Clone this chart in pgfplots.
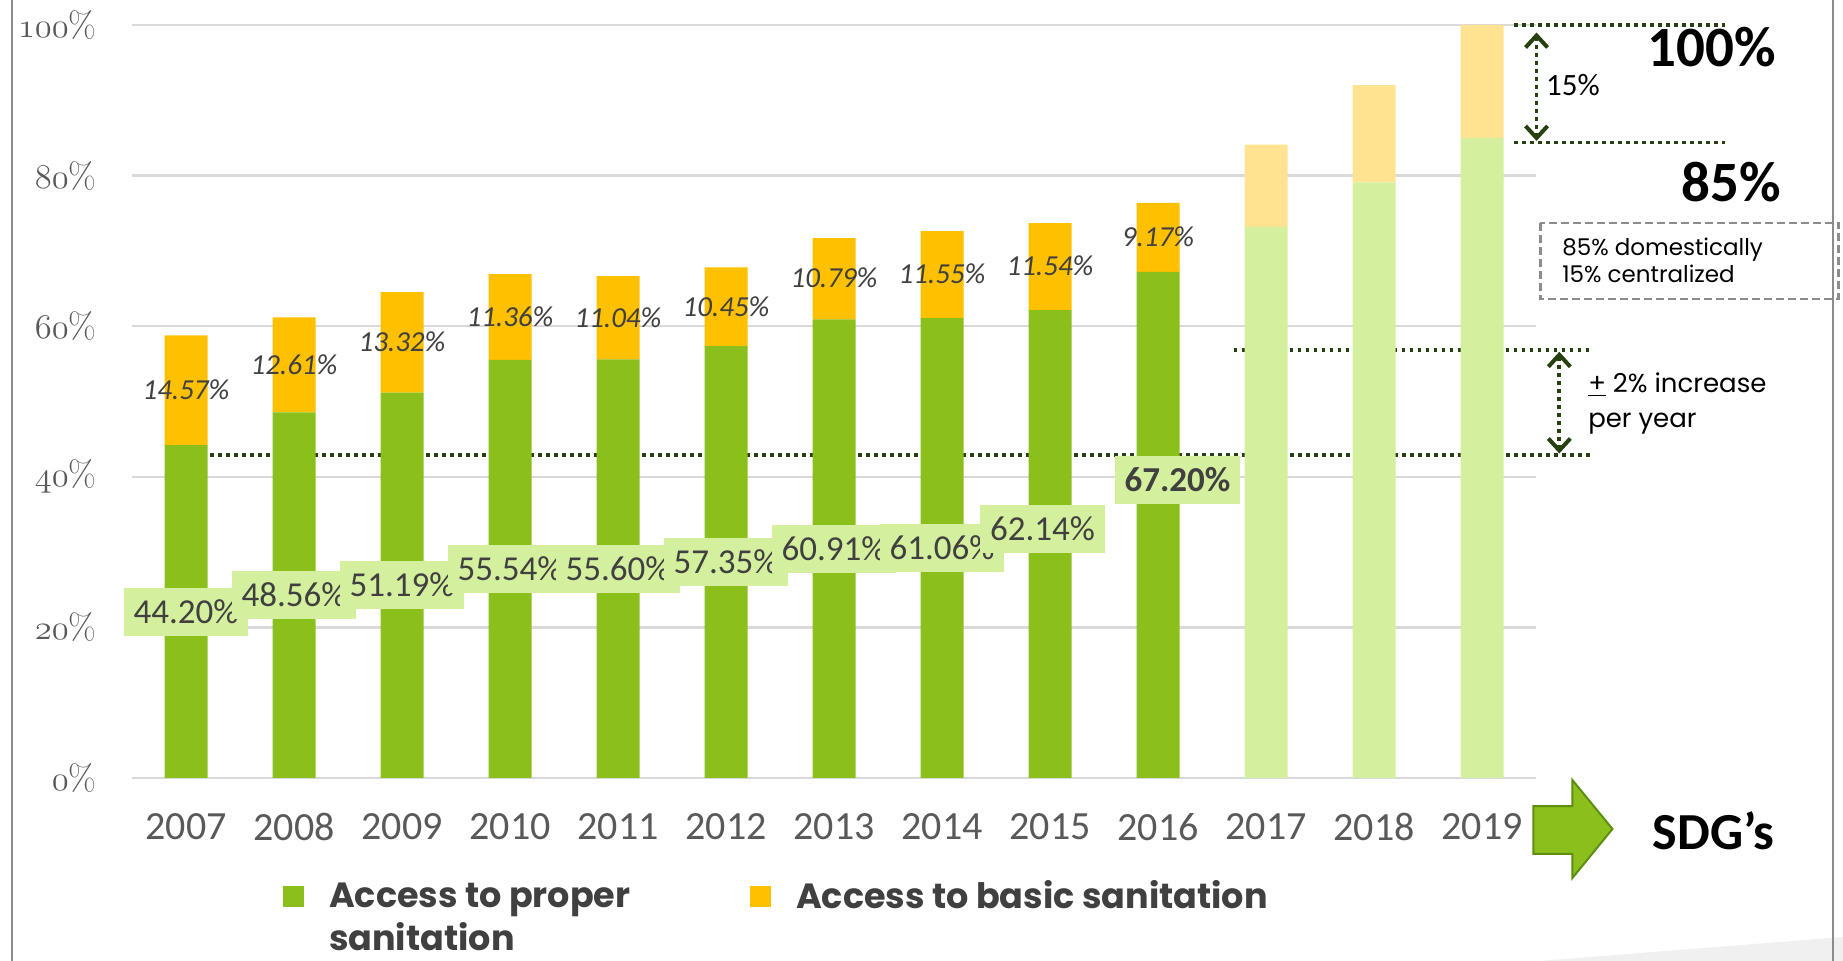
\documentclass[border=0pt]{standalone}
\usepackage{pgfplots}
\pgfplotsset{compat=1.18}
\usepackage{pgfplotstable}
\usepackage{fontspec}
\usetikzlibrary{arrows.meta}
\setmainfont{Carlito}
\newfontfamily\carl{Carlito}
\newfontfamily\pop{Poppins}
\definecolor{cgreen}{HTML}{8BBF1C}
\definecolor{cyellow}{HTML}{FFC000}
\definecolor{clgreen}{HTML}{D4EF9E}
\definecolor{clyellow}{HTML}{FFE390}
\definecolor{cdot}{HTML}{264010}
\definecolor{cgrid}{HTML}{D9D9D9}
\definecolor{ctext}{HTML}{595959}
\definecolor{clabel}{HTML}{404040}
\definecolor{cframe}{HTML}{8C8C8C}
\definecolor{carrowdark}{HTML}{5E8E10}
\newcommand\ytl[1]{{\usefont{OML}{lmm}{b}{it}#1}{\usefont{TU}{lmr}{m}{n}\%}}

\pgfplotstableread{
x proper lproper basic lbasic
0 44.20 0 14.57 0
1 48.56 0 12.61 0
2 51.19 0 13.32 0
3 55.54 0 11.36 0
4 55.60 0 11.04 0
5 57.35 0 10.45 0
6 60.91 0 10.79 0
7 61.06 0 11.55 0
8 62.14 0 11.54 0
9 67.20 0 9.17 0
10 0 73.2 0 10.9
11 0 79.1 0 12.9
12 0 85.0 0 15.0
}\bars

\pgfplotstableread{
x y v
0 22.10 44.20
1 24.28 48.56
2 25.60 51.19
3 27.77 55.54
4 27.80 55.60
5 28.68 57.35
6 30.46 60.91
7 30.53 61.06
7.93 33.10 62.14
}\greenlabels

\pgfplotstableread{
x y v
9.18 39.60 67.20
}\greenbold

\pgfplotstableread{
x y v
0 51.49 14.57
1 54.87 12.61
2 57.85 13.32
3 61.22 11.36
4 61.12 11.04
5 62.58 10.45
6 66.31 10.79
7 66.84 11.55
8 67.91 11.54
9 71.79 9.17
}\yellowlabels

\pgfplotsset{base/.style={at={(66pt,91.5pt)}, anchor=south west, scale only axis,
  width=702pt, height=376.5pt, xmin=-0.5, xmax=12.5, ymin=0, ymax=100, clip=false}}

\tikzset{dotl/.style={cdot, line width=1.9pt, dash pattern=on 1.9pt off 2.1pt},
  barb/.style={{Straight Barb[length=6pt,width=11pt,line width=2pt]}-{Straight Barb[length=6pt,width=11pt,line width=2pt]}}}

\begin{document}
\begin{tikzpicture}
\path[use as bounding box] (0,0) rectangle (921.5pt,480.5pt);
\fill[white] (0,0) rectangle (921.5pt,480.5pt);
\fill[black!6] (770pt,0pt) -- (921.5pt,12pt) -- (921.5pt,0pt) -- cycle;
\draw[cframe, line width=1pt] (6pt,0) -- (6pt,480.5pt);
\draw[cframe, line width=1pt] (916.5pt,0) -- (916.5pt,480.5pt);

\begin{axis}[base, ybar stacked, bar width=21.5pt,
  axis line style={draw=none}, tick style={draw=none},
  ymajorgrids, grid style={draw=cgrid, line width=1.15pt},
  ytick={0,20,40,60,80,100},
  yticklabels={\ytl{0},\ytl{20},\ytl{40},\ytl{60},\ytl{80},\ytl{100}},
  yticklabel style={anchor=east, inner sep=0pt, xshift=-17.5pt, text=ctext, font=\fontsize{18}{21}\selectfont},
  xtick={0,1,2,3,4,5,6,7,8,9,10,11,12},
  xticklabels={2007,2008,2009,2010,2011,2012,2013,2014,2015,2016,2017,2018,2019},
  xticklabel style={anchor=north, inner sep=0pt, yshift=-17.5pt, text=ctext, font=\carl\fontsize{20}{24}\selectfont},
  legend columns=2,
  legend cell align=left,
  legend style={at={(axis description cs:0.10733,-0.1360)}, anchor=north west, draw=none, fill=none,
    inner sep=0pt, column sep=12.5pt,
    nodes={inner sep=0pt, text=clabel, font=\pop\bfseries\fontsize{17.5}{21.5}\selectfont},
    /tikz/every even column/.append style={column sep=10.5pt}},
]
\addplot[fill=cgreen, draw=none, legend image code/.code={\fill[cgreen] (0pt,-5.5pt) rectangle (10.5pt,5pt);}] table[x=x,y=proper] {\bars};
\addlegendentry{\parbox[t]{200pt}{Access to proper\\sanitation}}
\addplot[fill=clgreen, draw=none, forget plot] table[x=x,y=lproper] {\bars};
\addplot[fill=cyellow, draw=none, legend image code/.code={\fill[cyellow] (0pt,-5.5pt) rectangle (10.5pt,5pt);}] table[x=x,y=basic] {\bars};
\addlegendentry{Access to basic sanitation}
\addplot[fill=clyellow, draw=none, forget plot] table[x=x,y=lbasic] {\bars};

% annotations
\draw[dotl] (axis cs:0.225,42.9) -- (axis cs:13.0,42.9);
\draw[dotl] (axis cs:9.70,56.84) -- (axis cs:13.0,56.84);
\draw[dotl, barb] (axis cs:12.716,56.6) -- (axis cs:12.716,43.1);
\draw[dotl] (axis cs:12.30,100) -- (axis cs:14.25,100);
\draw[dotl] (axis cs:12.30,84.4) -- (axis cs:14.25,84.4);
\draw[dotl, barb] (axis cs:12.505,99.0) -- (axis cs:12.505,84.6);
\node[anchor=west, inner sep=0pt, font=\carl\fontsize{15.5}{18}\selectfont] at (axis cs:12.59,92.0) {15\%};
\node[font=\carl\bfseries\fontsize{28.5}{32}\selectfont] at (axis cs:14.13,97.0) {100\%};
\node[font=\carl\bfseries\fontsize{28.5}{32}\selectfont] at (axis cs:14.31,79.1) {85\%};
\draw[cframe, line width=1.25pt, dash pattern=on 4pt off 2pt] (axis cs:12.54,73.7) rectangle (axis cs:15.30,63.6);
\node[anchor=base west, inner sep=0pt, font=\pop\fontsize{11.5}{14}\selectfont] at (axis cs:12.74,69.45) {85\% domestically};
\node[anchor=base west, inner sep=0pt, font=\pop\fontsize{11.5}{14}\selectfont] at (axis cs:12.74,65.74) {15\% centralized};
\node[anchor=base west, inner sep=0pt, font=\pop\fontsize{13}{16}\selectfont] at (axis cs:12.98,51.13) {\underline{+} 2\% increase};
\node[anchor=base west, inner sep=0pt, font=\pop\fontsize{13}{16}\selectfont] at (axis cs:12.98,46.6) {per year};
\filldraw[fill=cgreen, draw=carrowdark, line width=1pt] (axis cs:12.476,-3.72) -- (axis cs:12.837,-3.72) -- (axis cs:12.837,-0.27) -- (axis cs:13.208,-6.77) -- (axis cs:12.837,-13.28) -- (axis cs:12.837,-10.09) -- (axis cs:12.476,-10.09) -- cycle;
\node[font=\carl\bfseries\fontsize{26}{30}\selectfont] at (axis cs:14.146,-7.04) {SDG’s};
\end{axis}

\begin{axis}[base, hide axis]
\addplot[draw=none, mark=none, point meta=explicit,
  nodes near coords={\pgfmathprintnumber[fixed,fixed zerofill,precision=2,assume math mode=true]{\pgfplotspointmeta}\%},
  every node near coord/.append style={anchor=center, fill=clgreen, text=clabel,
    font=\carl\fontsize{17.5}{20}\selectfont, inner xsep=5pt, inner ysep=0pt,
    text height=11.5pt, text depth=0pt, minimum height=24pt}]
  table[x=x,y=y,meta=v] {\greenlabels};
\addplot[draw=none, mark=none, point meta=explicit,
  nodes near coords={\pgfmathprintnumber[fixed,fixed zerofill,precision=2,assume math mode=true]{\pgfplotspointmeta}\%},
  every node near coord/.append style={anchor=center, fill=clgreen, text=clabel,
    font=\carl\bfseries\fontsize{17.5}{20}\selectfont, inner xsep=5pt, inner ysep=0pt,
    text height=11.5pt, text depth=0pt, minimum height=24pt}]
  table[x=x,y=y,meta=v] {\greenbold};
\addplot[draw=none, mark=none, point meta=explicit,
  nodes near coords={\pgfmathprintnumber[fixed,fixed zerofill,precision=2,assume math mode=true]{\pgfplotspointmeta}\%},
  every node near coord/.append style={anchor=center, text=clabel,
    font=\carl\itshape\fontsize{14.5}{17}\selectfont, inner sep=0pt,
    text height=9.3pt, text depth=0pt}]
  table[x=x,y=y,meta=v] {\yellowlabels};
\end{axis}
\end{tikzpicture}
\end{document}
